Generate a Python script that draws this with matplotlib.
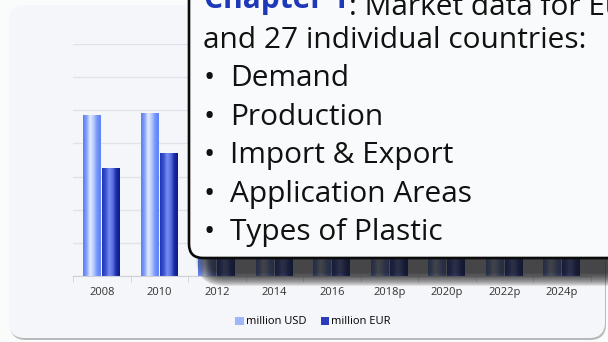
import matplotlib.pyplot as plt
import numpy as np
from matplotlib.patches import FancyBboxPatch, Patch
from matplotlib.colors import LinearSegmentedColormap

# Market values per year (p = projection)
years = ['2008', '2010', '2012', '2014', '2016', '2018p', '2020p', '2022p', '2024p']
usd = [48.5, 49.1, 51.0, 54.0, 52.5, 56.0, 59.0, 62.0, 65.0]
eur = [32.7, 37.0, 39.7, 40.6, 47.4, 47.5, 51.5, 54.0, 56.5]

W, H = 608, 342
fig = plt.figure(figsize=(W / 100, H / 100), dpi=100, facecolor='#fafbfb')

# background panel (pixel coordinates)
ax_bg = fig.add_axes([0, 0, 1, 1], zorder=0)
ax_bg.set_xlim(0, W)
ax_bg.set_ylim(H, 0)
ax_bg.axis('off')
ax_bg.add_patch(FancyBboxPatch((10, 7), 596, 333, boxstyle='round,pad=0,rounding_size=16',
                               fc='#b9b9bb', ec='none'))
ax_bg.add_patch(FancyBboxPatch((9, 5), 596, 333, boxstyle='round,pad=0,rounding_size=16',
                               fc='#f5f6fa', ec='none'))

# bar chart
ax = fig.add_axes([73 / W, (H - 276) / H, 517.5 / W, 232 / H], zorder=1)
ax.set_facecolor('none')
x = np.arange(len(years))
bw = 0.31
usd_bars = ax.bar(x - 0.165, usd, bw)
eur_bars = ax.bar(x + 0.165, eur, bw)

usd_cmap = LinearSegmentedColormap.from_list(
    'usd', ['#5a7cf4', '#86a2fa', '#e4ecff', '#b4c8fe', '#7394f9', '#5f82f6'])
eur_cmap = LinearSegmentedColormap.from_list(
    'eur', ['#2135b4', '#3a52d2', '#7a8ef0', '#5a70e2', '#1b2ca6', '#0d1a88'])
grad = np.linspace(0, 1, 64).reshape(1, -1)
for bars, cmap in [(usd_bars, usd_cmap), (eur_bars, eur_cmap)]:
    for r in bars:
        r.set_facecolor('none')
        r.set_edgecolor('none')
        x0, y0 = r.get_x(), r.get_y()
        im = ax.imshow(grad, cmap=cmap, aspect='auto', interpolation='bilinear',
                       extent=[x0, x0 + r.get_width(), y0, y0 + r.get_height()], zorder=2)
        im.set_clip_path(r)

ax.set_xlim(-0.5, len(years) - 0.5)
ax.set_ylim(0, 70)
ax.set_yticks(np.arange(0, 71, 10))
ax.set_yticklabels([])
ax.tick_params(axis='y', length=0)
ax.grid(axis='y', color='#e1e3ea', lw=1)
ax.set_axisbelow(True)
for s in ['top', 'right', 'left']:
    ax.spines[s].set_visible(False)
ax.spines['bottom'].set_color('#cfd1d8')
ax.set_xticks(x)
ax.set_xticklabels(years, fontsize=8, color='#333333', family='Open Sans')
ax.set_xticks(np.arange(-0.5, len(years)), minor=True)
ax.tick_params(axis='x', which='major', length=0, pad=8)
ax.tick_params(axis='x', which='minor', length=4, color='#cfd1d8')

fig.legend(handles=[Patch(fc='#9fb6fb', label='million USD'),
                    Patch(fc='#2a3cbc', label='million EUR')],
           loc='center', bbox_to_anchor=(313 / W, 20 / H), ncol=2, frameon=False,
           handlelength=0.75, handleheight=0.75, handletextpad=0.2,
           columnspacing=1.3, prop={'family': 'Open Sans', 'size': 8})

# overlay with the chapter box and its drop shadow
ov = fig.add_axes([0, 0, 1, 1], zorder=3)
ov.set_facecolor('none')
ov.set_xlim(0, W)
ov.set_ylim(H, 0)
ov.axis('off')

# soft shadow: stacked translucent rounded boxes, widening outward
for k in range(14):
    grow = 14 - k
    ov.add_patch(FancyBboxPatch((210 - grow, -80), 560 + 2 * grow, 352 + grow,
                                boxstyle=f'round,pad=0,rounding_size={14 + grow}',
                                fc='#1a1a1a', ec='none', alpha=0.1, zorder=1))

ov.add_patch(FancyBboxPatch((189, -80), 520, 338, boxstyle='round,pad=0,rounding_size=14',
                            fc='#f9fafb', ec='#0a0a0a', lw=1.9, zorder=2))

fs = 21.5
tfam = 'Open Sans'
t1 = ov.text(204, 7.8, 'Chapter 1', fontsize=fs, fontweight='bold', color='#1d38b8',
             family=tfam, va='baseline', zorder=3)
ov.annotate(': Market data for Europe', xy=(1, 0), xycoords=t1, va='baseline',
            fontsize=fs, color='#111111', family=tfam, zorder=3)
ov.text(203, 47.7, 'and 27 individual countries:', fontsize=fs, color='#111111',
        family=tfam, va='baseline', zorder=3)
items = ['Demand', 'Production', 'Import & Export', 'Application Areas', 'Types of Plastic']
for i, it in enumerate(items):
    yb = 86 + i * 38.6
    ov.text(204, yb, '•', fontsize=fs, color='#111111', family=tfam, va='baseline', zorder=3)
    ov.text(230, yb, it, fontsize=fs, color='#111111', family=tfam, va='baseline', zorder=3)

fig.savefig('out.png', dpi=100, facecolor=fig.get_facecolor())
